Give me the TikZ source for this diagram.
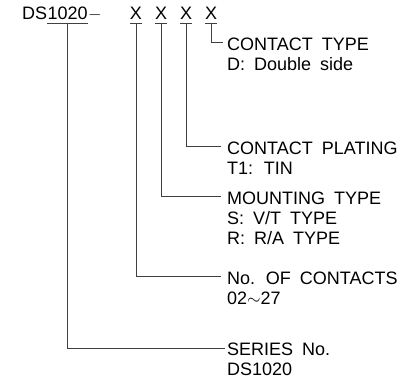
\documentclass[tikz,border=0pt]{standalone}
\usepackage{fontspec}
\setmainfont{Liberation Sans}[WordSpace=1.8]

\begin{document}
\begin{tikzpicture}[
    x=1pt, y=-1pt,
    code/.style={
        anchor=base,
        inner xsep=0pt,
        inner ysep=3pt,
        font=\fontsize{18}{20}\selectfont
    },
    desc/.style={
        anchor=north west,
        inner sep=0pt,
        align=left,
        font=\fontsize{18}{20}\selectfont
    },
    leader/.style={draw=black!75, line width=0.9pt}
]
\useasboundingbox (0,0) rectangle (414,382);

\node[code, anchor=base west] (ds) at (22,20) {DS};
\node[code, anchor=base west] (num) at (ds.base east) {1020};
\node[code, anchor=base west] (dash) at (num.base east) {$-$};

\foreach \n/\xpos in {a/136, b/161, c/186, d/211}
    \node[code] (x\n) at (\xpos,20) {X};

\foreach \n in {num, xa, xb, xc, xd}
    \draw[leader] (\n.south west) -- (\n.south east);

\node[desc] (ctype) at (227,38) {CONTACT TYPE\\D: Double side};
\node[desc] (plating) at (227,142) {CONTACT PLATING\\T1: TIN};
\node[desc] (mount) at (227,192) {MOUNTING TYPE\\S: V/T TYPE\\R: R/A TYPE};
\node[desc] (count) at (227,272) {No. OF CONTACTS\\02$\sim$27};
\node[desc] (series) at (227,343) {SERIES No.\\DS1020};

\draw[leader] (xd.south) |- ([xshift=-4pt, yshift=-4pt]ctype.north west);
\draw[leader] (xc.south) |- ([xshift=-6pt, yshift=-4pt]plating.north west);
\draw[leader] (xb.south) |- ([xshift=-6pt, yshift=-4pt]mount.north west);
\draw[leader] (xa.south) |- ([xshift=-6pt, yshift=-4pt]count.north west);
\draw[leader] (num.south) |- ([xshift=-2pt, yshift=-5pt]series.north west);

\end{tikzpicture}
\end{document}
